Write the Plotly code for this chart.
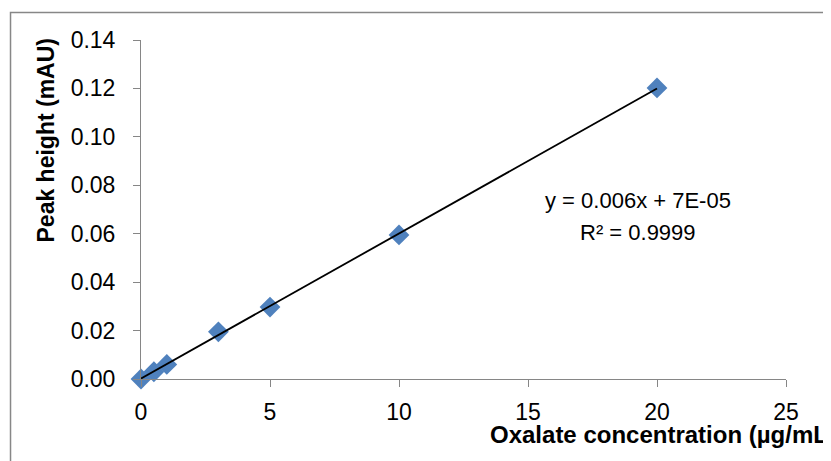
import numpy as np
import plotly.graph_objects as go

# Data
concentration = [0, 0.5, 1, 3, 5, 10, 20]
peak_height = [0.0, 0.003, 0.006, 0.0195, 0.0297, 0.0595, 0.1202]

x_ticks = [0, 5, 10, 15, 20, 25]
y_ticks = [0.00, 0.02, 0.04, 0.06, 0.08, 0.10, 0.12, 0.14]
y_tick_labels = ["0.00", "0.02", "0.04", "0.06", "0.08", "0.10", "0.12", "0.14"]

equation_text = "y = 0.006x + 7E-05"
r2_text = "R² = 0.9999"
x_title = "Oxalate concentration (µg/mL)"
y_title = "Peak height (mAU)"

# Linear trendline fitted to the data
slope, intercept = np.polyfit(concentration, peak_height, 1)
trend_x = [min(concentration), max(concentration)]
trend_y = [slope * v + intercept for v in trend_x]

FONT = "Liberation Sans, Arial, sans-serif"
AXIS_GRAY = "#868686"

fig = go.Figure()
fig.add_trace(go.Scatter(
    x=concentration, y=peak_height, mode="markers",
    marker=dict(symbol="diamond", size=16, color="#4F81BD", line=dict(width=0)),
    showlegend=False, cliponaxis=False,
))
fig.add_trace(go.Scatter(
    x=trend_x, y=trend_y, mode="lines",
    line=dict(color="black", width=1.8),
    showlegend=False, cliponaxis=False,
))

fig.update_layout(
    width=831, height=461,
    margin=dict(l=133, r=53, t=32, b=90),
    paper_bgcolor="white", plot_bgcolor="white",
    font=dict(family=FONT, size=23, color="black"),
    showlegend=False,
    xaxis=dict(
        range=[0, 25], tickvals=x_ticks, ticks="outside", ticklen=7,
        tickcolor=AXIS_GRAY, tickwidth=1, showline=True, linecolor=AXIS_GRAY,
        linewidth=1, showgrid=False, zeroline=False,
        tickfont=dict(size=23, family=FONT), ticklabelstandoff=5,
    ),
    yaxis=dict(
        range=[0, 0.14], tickvals=y_ticks, ticktext=y_tick_labels,
        ticks="outside", ticklen=7, tickcolor=AXIS_GRAY, tickwidth=1,
        showline=True, linecolor=AXIS_GRAY, linewidth=1, showgrid=False,
        zeroline=False, tickfont=dict(size=23, family=FONT), ticklabelstandoff=13,
    ),
    shapes=[dict(
        type="rect", xref="paper", yref="paper",
        x0=-0.2023, x1=1.0682, y0=-0.30, y1=1.0811,
        line=dict(color="#878787", width=1.5), fillcolor="rgba(0,0,0,0)",
        layer="below",
    )],
    annotations=[
        dict(text=f"<b>{x_title}</b>", xref="paper", yref="paper",
             x=0.5380, y=-0.1650, xanchor="left", yanchor="middle",
             showarrow=False, font=dict(size=24, family=FONT)),
        dict(text=f"<b>{y_title}</b>", xref="paper", yref="paper",
             x=-0.1473, y=0.7035, xanchor="center", yanchor="middle",
             textangle=-90, showarrow=False, font=dict(size=23, family=FONT)),
        dict(text=equation_text, xref="paper", yref="paper",
             x=0.7705, y=0.5251, xanchor="center", yanchor="middle",
             showarrow=False, font=dict(size=22, family=FONT)),
        dict(text=r2_text, xref="paper", yref="paper",
             x=0.7705, y=0.4307, xanchor="center", yanchor="middle",
             showarrow=False, font=dict(size=22, family=FONT)),
    ],
)

fig.write_html("out.html")
